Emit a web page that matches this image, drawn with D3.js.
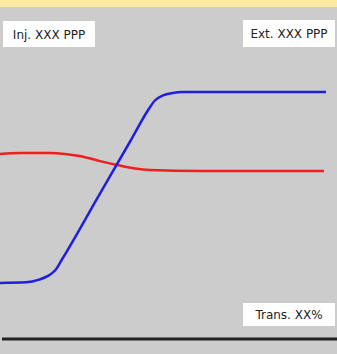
<html>
<head>
  <meta charset="utf8">
  <style>
    * { margin: 0; padding: 0; }
    body { background: #cccccc; }
  </style>
</head>
<body>
  <script src="https://cdn.jsdelivr.net/npm/d3@7"></script>
  <script>
    var w = 337
    var h = 354

    // transmission (%) along x, level along y
    var blueX = [0, 8, 12, 15, 17, 19, 30, 40, 45.5, 47.5, 50, 53, 56, 100]
    var blueY = [18.7, 18.9, 19.8, 21.2, 23, 26.5, 47.2, 66, 76.4, 79.5, 81.2, 82, 82.3, 82.3]
    var redX = [0, 6.1, 15.3, 19.9, 24.5, 30.7, 35.9, 41.4, 46, 61.3, 99.4]
    var redY = [61.7, 62, 62, 61.7, 61, 59.3, 58, 56.8, 56.3, 56, 56]
    var labels = ['Inj. XXX PPP', 'Ext. XXX PPP', 'Trans. XX%']

    var xScale = d3.scaleLinear().domain([0, 100]).range([0, 326])
    var yScale = d3.scaleLinear().domain([0, 100]).range([339, 39])

    var svg = d3.select('body').append('svg').attr('width', w).attr('height', h)

    svg.append('rect')
      .attr('x', 0).attr('y', 0).attr('width', w).attr('height', h)
      .attr('fill', '#cccccc')
    svg.append('rect')
      .attr('x', 0).attr('y', 0).attr('width', w).attr('height', 7)
      .attr('fill', '#fde9a2')

    var line = d3.line()
      .x(d => xScale(d[0]))
      .y(d => yScale(d[1]))
      .curve(d3.curveMonotoneX)

    svg.append('path')
      .datum(d3.zip(redX, redY))
      .attr('d', line)
      .attr('fill', 'none')
      .attr('stroke', '#f01e1e')
      .attr('stroke-width', 2.5)

    svg.append('path')
      .datum(d3.zip(blueX, blueY))
      .attr('d', line)
      .attr('fill', 'none')
      .attr('stroke', '#1e1ee0')
      .attr('stroke-width', 2.5)

    // baseline
    svg.append('line')
      .attr('x1', 2).attr('x2', w)
      .attr('y1', yScale(0)).attr('y2', yScale(0))
      .attr('stroke', '#222')
      .attr('stroke-width', 3)

    // label boxes
    var boxes = [
      { x: 3, y: 21, w: 92, h: 26 },
      { x: 243, y: 20, w: 92, h: 27 },
      { x: 243, y: 303, w: 92, h: 23 }
    ]
    boxes.forEach((b, i) => {
      svg.append('rect')
        .attr('x', b.x).attr('y', b.y).attr('width', b.w).attr('height', b.h)
        .attr('fill', 'white')
      svg.append('text')
        .text(labels[i])
        .attr('x', b.x + b.w / 2)
        .attr('y', b.y + b.h / 2 + 4.5)
        .attr('text-anchor', 'middle')
        .attr('font-family', 'DejaVu Sans, sans-serif')
        .attr('font-size', '12px')
        .attr('fill', '#222')
    })
  </script>
</body>
</html>
